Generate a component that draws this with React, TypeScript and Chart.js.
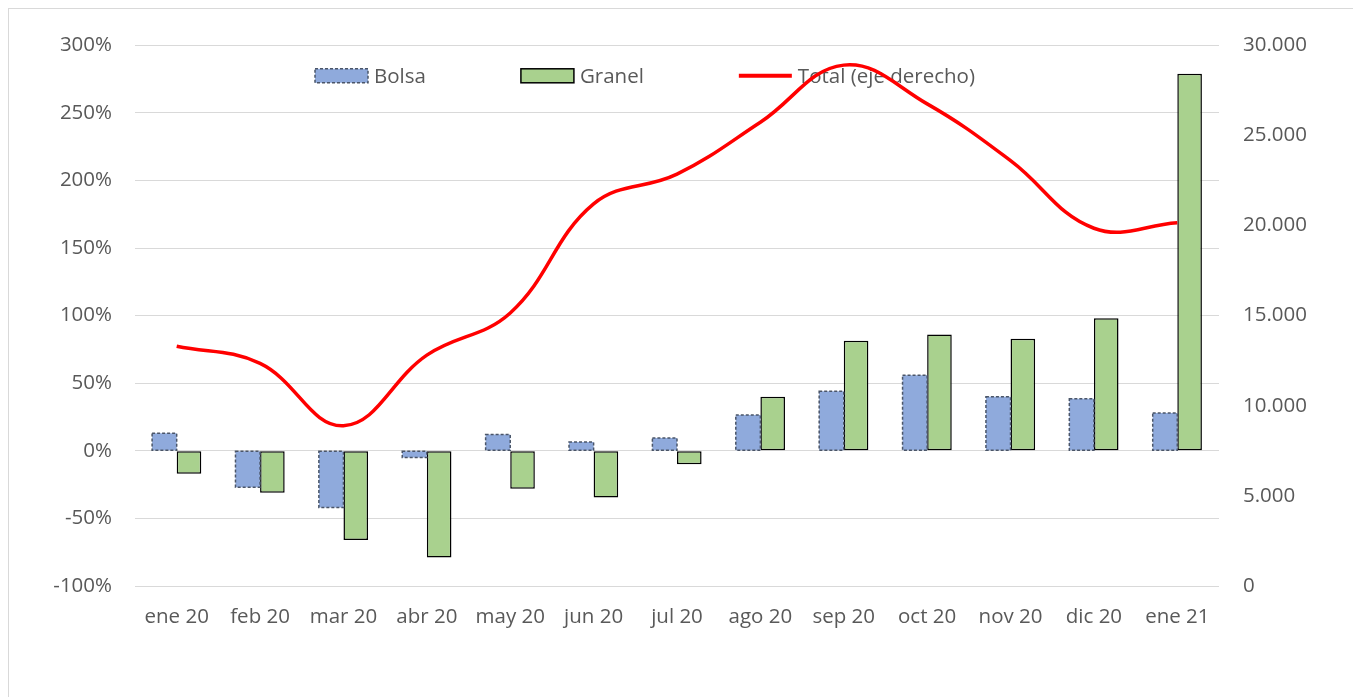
import React, { useEffect, useRef } from "react";
import { Chart, registerables } from "chart.js";

Chart.register(...registerables);

const categories = ["ene 20", "feb 20", "mar 20", "abr 20", "may 20", "jun 20", "jul 20", "ago 20", "sep 20", "oct 20", "nov 20", "dic 20", "ene 21"];
const bolsa = [13, -27, -42, -5, 12, 6.5, 9.5, 26.5, 44, 56, 40, 38.5, 28];
const granel = [-17, -31, -66, -79, -28, -34.5, -10, 40, 81.5, 86, 83, 98, 279];
const total = [13300, 12350, 8890, 12810, 15150, 21200, 22850, 25730, 28900, 26750, 23600, 19850, 20150];
const leftRange = [-100, 300, 50];
const rightRange = [0, 30000, 5000];

const FONT_FAMILY = '"Open Sans", "Liberation Sans", sans-serif';
const FONT_SIZE = 20.5;
const TEXT_COLOR = "#595959";
const GRID_COLOR = "#d9d9d9";
const BOLSA_FILL = "#8faadc";
const BOLSA_BORDER = "#4a5568";
const GRANEL_FILL = "#a9d18e";
const GRANEL_BORDER = "#000000";
const TOTAL_COLOR = "#ff0000";

const fmtThousands = (v: number) => String(v).replace(/\B(?=(\d{3})+(?!\d))/g, ".");

const dashedBorderPlugin = {
  id: "dashedBorder",
  afterDatasetDraw(chart: any, args: any) {
    const ds: any = chart.data.datasets[args.index];
    if (!ds.dashedBorder) return;
    const ctx = chart.ctx;
    ctx.save();
    ctx.strokeStyle = BOLSA_BORDER;
    ctx.lineWidth = 1.5;
    ctx.setLineDash([3, 2]);
    args.meta.data.forEach((el: any) => {
      const { x, y, base, width } = el.getProps(["x", "y", "base", "width"], true);
      ctx.strokeRect(x - width / 2, Math.min(y, base), width, Math.abs(base - y));
    });
    ctx.restore();
  },
};

const insideLegendPlugin = {
  id: "insideLegend",
  beforeDatasetsDraw(chart: any) {
    const ctx = chart.ctx;
    const area = chart.chartArea;
    const y = area.top + 30.5;
    let x = area.left + 180;
    const symW = 53;
    const symH = 14;
    const textGap = 6;
    const itemGap = 95;
    ctx.save();
    ctx.font = `${FONT_SIZE}px ${FONT_FAMILY}`;
    ctx.textBaseline = "middle";
    ctx.textAlign = "left";
    const items = [0, 1, 2].map((i) => chart.data.datasets[i]);
    items.forEach((ds: any) => {
      if (ds.type === "line") {
        ctx.strokeStyle = TOTAL_COLOR;
        ctx.lineWidth = 4;
        ctx.setLineDash([]);
        ctx.beginPath();
        ctx.moveTo(x, y);
        ctx.lineTo(x + symW, y);
        ctx.stroke();
      } else if (ds.dashedBorder) {
        ctx.fillStyle = BOLSA_FILL;
        ctx.fillRect(x, y - symH / 2, symW, symH);
        ctx.strokeStyle = BOLSA_BORDER;
        ctx.lineWidth = 1.5;
        ctx.setLineDash([3, 2]);
        ctx.strokeRect(x, y - symH / 2, symW, symH);
      } else {
        ctx.fillStyle = GRANEL_FILL;
        ctx.fillRect(x, y - symH / 2, symW, symH);
        ctx.strokeStyle = GRANEL_BORDER;
        ctx.lineWidth = 1.5;
        ctx.setLineDash([]);
        ctx.strokeRect(x, y - symH / 2, symW, symH);
      }
      const tx = x + symW + textGap;
      ctx.fillStyle = TEXT_COLOR;
      ctx.fillText(ds.label, tx, y + 1);
      x = tx + ctx.measureText(ds.label).width + itemGap;
    });
    ctx.restore();
  },
};

export default function App() {
  const canvasRef = useRef<HTMLCanvasElement | null>(null);

  useEffect(() => {
    const canvas = canvasRef.current;
    if (!canvas) return;
    const tickFont = { family: FONT_FAMILY, size: FONT_SIZE };
    const chart = new Chart(canvas, {
      data: {
        labels: categories,
        datasets: [
          {
            type: "bar",
            label: "Bolsa",
            data: bolsa,
            backgroundColor: BOLSA_FILL,
            borderWidth: 0,
            yAxisID: "y",
            order: 1,
            categoryPercentage: 0.59,
            barPercentage: 1,
            dashedBorder: true,
          } as any,
          {
            type: "bar",
            label: "Granel",
            data: granel,
            backgroundColor: GRANEL_FILL,
            borderColor: GRANEL_BORDER,
            borderWidth: 1.5,
            borderSkipped: false,
            yAxisID: "y",
            order: 1,
            categoryPercentage: 0.59,
            barPercentage: 1,
          } as any,
          {
            type: "line",
            label: "Total (eje derecho)",
            data: total,
            borderColor: TOTAL_COLOR,
            backgroundColor: TOTAL_COLOR,
            borderWidth: 3.5,
            pointRadius: 0,
            tension: 0.4,
            yAxisID: "y1",
            order: 0,
            clip: false,
          } as any,
        ],
      },
      options: {
        responsive: false,
        maintainAspectRatio: false,
        animation: false,
        layout: { padding: { top: 36, left: 0, right: 0, bottom: 0 } },
        plugins: {
          legend: { display: false },
          tooltip: { enabled: false },
        },
        scales: {
          x: {
            type: "category",
            offset: true,
            grid: { display: false, drawTicks: false },
            border: { display: false },
            ticks: { color: TEXT_COLOR, font: tickFont, padding: 19, maxRotation: 0, autoSkip: false },
            afterFit: (scale: any) => {
              scale.height = 111;
            },
          },
          y: {
            type: "linear",
            position: "left",
            min: leftRange[0],
            max: leftRange[1],
            grid: { color: GRID_COLOR, lineWidth: 1, drawTicks: false },
            border: { display: false },
            ticks: {
              stepSize: leftRange[2],
              color: TEXT_COLOR,
              font: tickFont,
              padding: 23,
              callback: (v: any) => `${v}%`,
            },
            afterFit: (scale: any) => {
              scale.width = 126;
            },
          },
          y1: {
            type: "linear",
            position: "right",
            min: rightRange[0],
            max: rightRange[1],
            grid: { drawOnChartArea: false, drawTicks: false },
            border: { display: false },
            ticks: {
              stepSize: rightRange[2],
              color: TEXT_COLOR,
              font: tickFont,
              padding: 24,
              callback: (v: any) => fmtThousands(Number(v)),
            },
            afterFit: (scale: any) => {
              scale.width = 134;
            },
          },
        },
      } as any,
      plugins: [dashedBorderPlugin, insideLegendPlugin],
    });
    return () => chart.destroy();
  }, []);

  return (
    <div
      style={{
        position: "relative",
        width: 1345,
        height: 689,
        boxSizing: "border-box",
        borderLeft: "1px solid #d9d9d9",
        borderTop: "1px solid #d9d9d9",
        background: "#ffffff",
      }}
    >
      <canvas ref={canvasRef} width={1344} height={688} style={{ display: "block", width: 1344, height: 688 }} />
    </div>
  );
}
